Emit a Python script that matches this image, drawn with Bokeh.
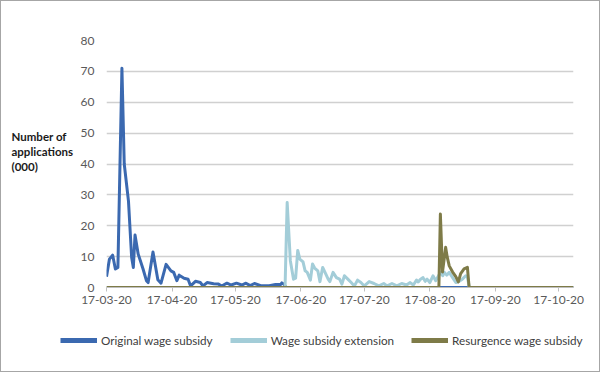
import pandas as pd
from bokeh.plotting import figure
from bokeh.layouts import column, row
from bokeh.models import (FixedTicker, DatetimeTickFormatter, Legend, LegendItem,
                          Range1d, Label)
from bokeh.embed import file_html
from bokeh.resources import INLINE

# ---- data (days since 17 March 2020, applications in thousands) ----
START = "2020-03-17"
END_DAY = 221

orig_days = [0, 1.4, 2.9, 4.2, 5.4, 7.3, 8.4, 10.4, 11.9, 12.7,
             13.5, 15, 17.3, 18.9, 19.7, 22, 24.3, 25.8, 28.2, 30.5,
             31.8, 33.3, 34.4, 36.7, 38.6, 39.8, 42.1, 44.4, 45.7, 47.6,
             50.7, 53, 54.5, 57, 59, 61.5, 64, 66, 68, 70,
             73, 77, 80, 82.5, 83, 84, 85, 221]
orig_vals = [3.5, 9.2, 10.5, 6, 6.5, 71, 40, 28, 9.7, 6.5,
             17, 10.8, 6, 2.2, 1.6, 11.5, 2.5, 1.4, 7.5, 5.4,
             4.9, 2.2, 4, 3, 2.7, 0.5, 2, 1.6, 0.5, 1.6,
             1.2, 1.1, 0.5, 1.4, 0.8, 1.4, 0.8, 1.4, 0.6, 1.3,
             0.6, 0.6, 1, 1, 1.5, 1, 0, 0]

ext_days = [0, 84.5, 85.5, 87, 88.5, 89.5, 90.5, 91.5, 93, 94,
            95, 96.5, 97.5, 98.5, 100, 101, 102.3, 103.8, 104.9, 105.7,
            107.2, 108.8, 110.3, 111.4, 112.6, 114.2, 115.8, 117.3, 118.8, 120.4,
            122, 124.3, 126.6, 128.9, 131.2, 132.8, 135.1, 137.4, 139.7, 142,
            143.7, 145.2, 146.7, 147.5, 148.6, 149.8, 150.8, 151.7, 153, 154.5,
            155.8, 158, 159.1, 159.9, 161, 162.2, 163.8, 165.3, 166.9, 168.4,
            170, 170.8, 171.7, 221]
ext_vals = [0, 0, 27.5, 8.7, 2.7, 3, 12, 9.2, 8.3, 5.4,
            4.9, 2.4, 7.6, 6.3, 5.4, 1.9, 6.5, 4.3, 2.7, 1.9,
            4.9, 3.2, 2.7, 1.1, 3.8, 2.7, 1.6, 0.5, 2.4, 1.6,
            0.5, 1.9, 1.3, 0.5, 1.3, 0.5, 1.3, 0.5, 1.3, 0.8,
            1.6, 0.8, 2.4, 1.8, 2.7, 3.2, 2, 2.7, 1.6, 3.8,
            2.2, 4.9, 3.8, 4.9, 4, 4.9, 3.2, 1.6, 2, 2.7,
            3.8, 3.5, 0, 0]

res_days = [0, 157.3, 158, 159, 160.5, 161.2, 162.2, 163.8, 165.3, 166.5,
            167.6, 169.2, 170.8, 171.6, 221]
res_vals = [0, 0, 23.8, 5, 13, 10, 7, 5, 3.5, 1.8,
            4.5, 6, 6.5, 0, 0]

series_names = ["Original wage subsidy", "Wage subsidy extension", "Resurgence wage subsidy"]
series_colors = ["#3B69B0", "#A3CDD8", "#7E7B48"]

tick_dates = ["2020-03-17", "2020-04-17", "2020-05-17", "2020-06-17",
              "2020-07-17", "2020-08-17", "2020-09-17", "2020-10-17"]
y_ticks = [0, 10, 20, 30, 40, 50, 60, 70, 80]
y_title_lines = ["Number of", "applications", "(000)"]

start = pd.Timestamp(START)


def to_dates(days):
    return [start + pd.Timedelta(days=d) for d in days]


FONT = "Lato"
TXT = "#595959"


def blank(fig):
    fig.grid.visible = False
    fig.outline_line_color = None
    fig.background_fill_color = "white"
    fig.border_fill_color = "white"


# ---- title panel (left); its frame lines up with the chart's frame ----
TW, MH = 76, 322
tf = figure(width=TW, height=MH, output_backend="svg", toolbar_location=None,
            x_range=Range1d(0, TW), y_range=Range1d(0, 80),
            x_axis_location=None, y_axis_location=None, min_border=0)
blank(tf)
for txt, yy in zip(y_title_lines, [48.9, 44.0, 39.3]):
    tf.add_layout(Label(x=10, y=yy, text=txt, text_font=FONT,
                        text_font_size="11.5px", text_font_style="bold",
                        text_color="#1A1A1A", text_align="left",
                        text_baseline="middle"))

# ---- main chart ----
p = figure(width=598 - TW, height=MH, x_axis_type="datetime",
           output_backend="svg", toolbar_location=None,
           x_range=Range1d(start, start + pd.Timedelta(days=END_DAY)),
           y_range=Range1d(0, 80),
           min_border_left=21, min_border_right=26,
           min_border_top=39, min_border_bottom=36)
p.outline_line_color = None
p.background_fill_color = "white"
p.border_fill_color = "white"

p.xgrid.grid_line_color = None
p.ygrid.grid_line_color = "#D0D0D0"
p.ygrid.grid_line_width = 1.5

p.yaxis.ticker = FixedTicker(ticks=y_ticks)
p.yaxis.axis_line_color = None
p.yaxis.major_tick_line_color = None
p.yaxis.minor_tick_line_color = None
p.yaxis.major_label_standoff = 6
p.yaxis.major_label_text_font = FONT
p.yaxis.major_label_text_font_size = "12px"
p.yaxis.major_label_text_color = TXT

tick_ms = [pd.Timestamp(d).value / 1e6 for d in tick_dates]
p.xaxis.ticker = FixedTicker(ticks=tick_ms)
p.xaxis.formatter = DatetimeTickFormatter(days="%d-%m-%y", months="%d-%m-%y")
p.xaxis.axis_line_color = "#BFBFBF"
p.xaxis.major_tick_line_color = "#BFBFBF"
p.xaxis.major_tick_in = 0
p.xaxis.major_tick_out = 4
p.xaxis.minor_tick_line_color = None
p.xaxis.major_label_standoff = 4
p.xaxis.major_label_text_font = FONT
p.xaxis.major_label_text_font_size = "12px"
p.xaxis.major_label_text_color = TXT

for days, vals, col in [(orig_days, orig_vals, series_colors[0]),
                        (ext_days, ext_vals, series_colors[1]),
                        (res_days, res_vals, series_colors[2])]:
    p.line(to_dates(days), vals, line_color=col, line_width=3,
           line_join="round")

# ---- legend panel (bottom) ----
LH = 48
lf = figure(width=598, height=LH, output_backend="svg", toolbar_location=None,
            x_range=Range1d(0, 1), y_range=Range1d(0, 1),
            x_axis_location=None, y_axis_location=None, min_border=0)
blank(lf)
# off-screen stand-in glyphs that only supply the legend swatches
legend_renderers = [lf.line([-2, -1], [-2, -1], line_color=c, line_width=5)
                    for c in series_colors]
legend = Legend(items=[LegendItem(label=n, renderers=[r])
                       for n, r in zip(series_names, legend_renderers)],
                orientation="horizontal", location=(59, 21),
                glyph_width=37, glyph_height=20, label_standoff=4, spacing=17,
                padding=0, margin=0, border_line_color=None,
                background_fill_alpha=0,
                label_text_font=FONT, label_text_font_size="11.7px",
                label_text_color="#404040")
lf.add_layout(legend, "center")

layout = column(row(tf, p), lf)
layout.styles = {"border": "1px solid #A6A6A6"}

open("out.html", "w").write(file_html(layout, INLINE))
